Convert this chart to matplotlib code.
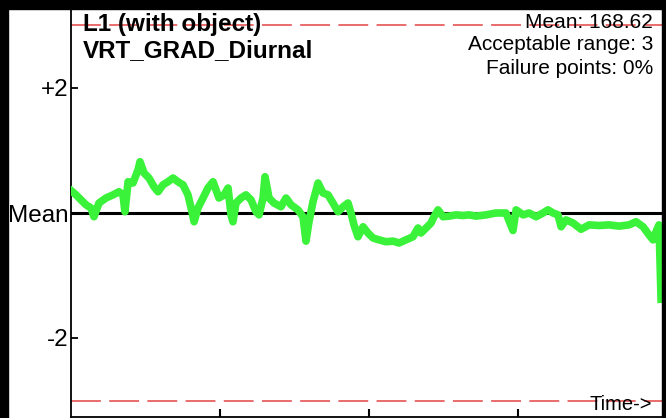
#!/usr/bin/env python3
"""
Diurnal gradient stability plot (L1 with object).

Re-draws the normalised deviation trace around the mean with the
acceptable range marked as red dashed limits.
"""

import matplotlib
matplotlib.use('Agg')
import matplotlib.pyplot as plt
from matplotlib.patches import Rectangle

# ----------------------------------------------------------------------------
# Data
# ----------------------------------------------------------------------------
time_pts = [
    0.000, 0.034, 0.067, 0.101, 0.134, 0.154, 0.188, 0.235, 0.282, 0.322,
    0.349, 0.362, 0.383, 0.416, 0.450, 0.463, 0.490, 0.523, 0.557, 0.584,
    0.617, 0.651, 0.685, 0.718, 0.752, 0.785, 0.812, 0.826, 0.852, 0.886,
    0.919, 0.953, 0.973, 0.993, 1.027, 1.054, 1.074, 1.087, 1.107, 1.141,
    1.174, 1.208, 1.242, 1.262, 1.289, 1.302, 1.329, 1.362, 1.409, 1.443,
    1.477, 1.523, 1.557, 1.577, 1.597, 1.624, 1.658, 1.691, 1.725, 1.758,
    1.792, 1.826, 1.859, 1.879, 1.899, 1.926, 1.960, 1.993, 2.027, 2.067,
    2.114, 2.161, 2.201, 2.248, 2.295, 2.329, 2.349, 2.383, 2.416, 2.436,
    2.463, 2.497, 2.537, 2.584, 2.631, 2.671, 2.718, 2.785, 2.852, 2.919,
    2.966, 2.987, 3.034, 3.074, 3.121, 3.168, 3.201, 3.235, 3.268, 3.289,
    3.322, 3.369, 3.423, 3.477, 3.544, 3.611, 3.678, 3.745, 3.792, 3.839,
    3.879, 3.906, 3.926, 3.946, 3.960,
]

deviation = [
    0.36, 0.29, 0.21, 0.13, 0.08, -0.06, 0.16, 0.24, 0.29, 0.34,
    0.29, 0.02, 0.50, 0.48, 0.69, 0.82, 0.64, 0.56, 0.42, 0.34,
    0.45, 0.50, 0.56, 0.50, 0.45, 0.29, 0.02, -0.14, 0.08, 0.24,
    0.40, 0.50, 0.37, 0.24, 0.29, 0.40, -0.03, -0.14, 0.16, 0.24,
    0.29, 0.21, 0.02, -0.03, 0.24, 0.58, 0.24, 0.16, 0.10, 0.24,
    0.13, 0.05, -0.06, -0.45, -0.14, 0.18, 0.48, 0.32, 0.29, 0.16,
    0.02, 0.10, 0.16, 0.00, -0.19, -0.38, -0.22, -0.32, -0.40, -0.43,
    -0.46, -0.45, -0.48, -0.43, -0.38, -0.24, -0.32, -0.24, -0.16, -0.06,
    0.05, -0.06, -0.05, -0.03, -0.04, -0.03, -0.05, -0.03, 0.00, 0.00,
    -0.28, 0.05, -0.03, 0.00, -0.06, 0.00, 0.05, 0.00, -0.03, -0.22,
    -0.11, -0.16, -0.26, -0.19, -0.20, -0.19, -0.21, -0.19, -0.14, -0.22,
    -0.35, -0.43, -0.30, -0.19, -1.38,
]

mean_value = 168.62
accept_range = 3
failure_pct = 0
y_ticks = [2, 0, -2]
y_tick_labels = ['+2', 'Mean', '-2']
x_ticks = [1, 2, 3]


def plot_diurnal():
    plt.rcParams['font.family'] = ['Liberation Sans', 'DejaVu Sans']
    plt.rcParams['lines.scale_dashes'] = False

    fig = plt.figure(figsize=(6.66, 4.18), dpi=100)
    ax = fig.add_axes([71 / 666, 1 / 418, 595 / 666, 408 / 418])

    # limits: +/-3 sit just inside the frame
    ax.set_xlim(0, 3.993)
    ax.set_ylim(-3.264, 3.264)

    # acceptable range limits
    for lim in (accept_range, -accept_range):
        ax.axhline(lim, color='#e44444', lw=1.1, dashes=(21.5, 6), zorder=1)

    # mean line and trace
    ax.axhline(0, color='black', lw=2.2, zorder=2)
    ax.plot(time_pts, deviation, color='#3af23a', lw=5.5,
            solid_joinstyle='round', zorder=3)

    # axes styling
    for side in ('top', 'right'):
        ax.spines[side].set_visible(False)
    ax.spines['left'].set_linewidth(1.3)
    ax.spines['bottom'].set_linewidth(1.3)

    ax.set_yticks(y_ticks)
    ax.set_yticklabels(y_tick_labels)
    ax.set_xticks(x_ticks)
    ax.set_xticklabels([])
    ax.tick_params(axis='y', direction='in', length=5, width=1.3,
                   labelsize=17.5, pad=2)
    ax.tick_params(axis='x', direction='in', length=6, width=1.5)

    # annotations
    fig.text(83 / 666, 1 - 24 / 418, 'L1 (with object)', fontsize=17.5,
             fontweight='bold', ha='left', va='center')
    fig.text(83 / 666, 1 - 51 / 418, 'VRT_GRAD_Diurnal', fontsize=17.5,
             fontweight='bold', ha='left', va='center')

    right_lines = [f'Mean: {mean_value:.2f}',
                   f'Acceptable range: {accept_range}',
                   f'Failure points: {failure_pct}%']
    for i, line in enumerate(right_lines):
        fig.text(653 / 666, 1 - (22 + 23 * i) / 418, line, fontsize=15,
                 ha='right', va='center')

    fig.text(652 / 666, 1 - 404 / 418, 'Time->', fontsize=14.5,
             ha='right', va='center')

    # thick black frame (top, left, right)
    frame = dict(color='black', transform=fig.transFigure, zorder=10)
    fig.patches.append(Rectangle((0, 1 - 9 / 418), 1, 9 / 418, **frame))
    fig.patches.append(Rectangle((0, 0), 8 / 666, 1, **frame))
    fig.patches.append(Rectangle((662 / 666, 0), 4 / 666, 1, **frame))

    fig.savefig('out.png', dpi=100)


if __name__ == '__main__':
    plot_diurnal()
